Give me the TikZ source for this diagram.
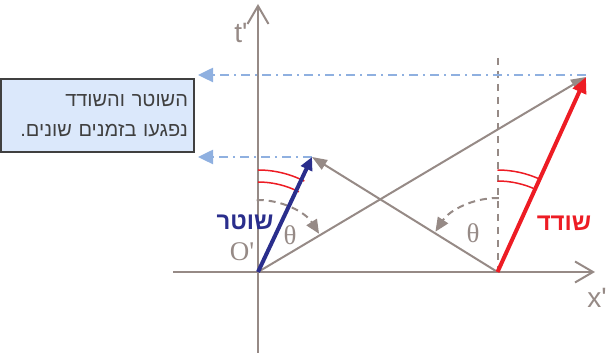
\documentclass[tikz,border=0pt]{standalone}
\usepackage{fontspec}
\setmainfont{Liberation Serif}
\newfontfamily\hebsans[Script=Hebrew]{Liberation Sans}
\newfontfamily\symfont{Liberation Serif}
\newfontfamily\axisfont{Liberation Sans}
\TeXXeTstate=1
\usepackage{tikz}
\usetikzlibrary{arrows.meta, calc}
\definecolor{axisgray}{RGB}{150,138,134}
\definecolor{copblue}{RGB}{42,46,140}
\definecolor{thiefred}{RGB}{237,28,36}
\definecolor{guideblue}{RGB}{143,176,224}
\definecolor{notefill}{RGB}{219,232,251}
\definecolor{notedraw}{RGB}{64,64,64}

\begin{document}
\begin{tikzpicture}[
        x=1pt, y=1pt,
        axis_line/.style={draw=axisgray, line width=2pt, -{Straight Barb[length=18pt, width=21pt, line width=2pt]}},
        signal_line/.style={draw=axisgray, line width=2pt, -{Triangle[length=15pt, width=11pt]}, fill=axisgray},
        cop_arrow/.style={draw=copblue, line width=4pt, -{Triangle[length=13pt, width=12pt]}},
        thief_arrow/.style={draw=thiefred, line width=4pt, -{Triangle[length=16pt, width=14pt]}},
        guide_line/.style={draw=guideblue, line width=2.5pt, dash pattern=on 9pt off 5pt on 2pt off 5pt,
                           -{Triangle[length=15pt, width=14pt, fill=guideblue]}},
        rest_line/.style={draw=axisgray, line width=2pt, dash pattern=on 7pt off 6pt},
        angle_arc/.style={draw=thiefred, line width=1.5pt},
        theta_arc/.style={draw=axisgray, line width=2pt, dash pattern=on 7pt off 5pt, -{Triangle[length=14pt, width=12pt]}},
        note_box/.style={rectangle, draw=notedraw, fill=notefill, line width=1.5pt,
                         minimum width=193pt, minimum height=73pt, text width=181pt, align=right, text=notedraw,
                         font=\hebsans\fontsize{20}{30}\selectfont, inner sep=6pt},
        name_lbl/.style={font=\hebsans\bfseries\fontsize{24}{24}\selectfont},
        axis_lbl/.style={font=\axisfont\fontsize{28}{28}\selectfont, text=axisgray},
        sym_lbl/.style={font=\symfont\fontsize{27}{27}\selectfont, text=axisgray}
    ]

    \useasboundingbox (0,0) rectangle (611,358);

    % frame points
    \coordinate (origin)  at (258,86);
    \coordinate (meet)    at (497.5,86);
    \coordinate (cop_end) at (312,201);
    \coordinate (thief_end) at (586,281);
    \coordinate (t_start) at (258,5);
    \coordinate (t_end)   at (258,354);
    \coordinate (x_start) at (173,86);
    \coordinate (x_end)   at (595,86);
    \coordinate (rest_top) at (497.5,300);
    \coordinate (guide_hi_start) at (586,283);
    \coordinate (guide_hi_end)   at (198,283);
    \coordinate (guide_lo_end)   at (198,201);

    \node[note_box] (note) at (97.5,242.5)
        {\beginR השוטר והשודד\endR\\\beginR נפגעו בזמנים שונים.\endR};

    \draw[axis_line] (t_start) -- (t_end);
    \draw[axis_line] (x_start) -- (x_end);
    \draw[rest_line] (rest_top) -- (meet);

    \draw[guide_line] (guide_hi_start) -- (guide_hi_end);
    \draw[guide_line] (cop_end) -- (guide_lo_end);

    \draw[signal_line] (origin) -- (thief_end);
    \draw[signal_line] (meet) -- (cop_end);

    \draw[angle_arc] ($(origin)+(90:102)$) arc[start angle=90, end angle=63, radius=102];
    \draw[angle_arc] ($(origin)+(90:90)$) arc[start angle=90, end angle=63, radius=90];
    \draw[angle_arc] ($(meet)+(90:102)$) arc[start angle=90, end angle=65, radius=102];
    \draw[angle_arc] ($(meet)+(90:91)$) arc[start angle=90, end angle=65, radius=91];

    \draw[theta_arc] ($(origin)+(91:72)$) arc[start angle=91, end angle=32, radius=72];
    \draw[theta_arc] ($(meet)+(89:74)$) arc[start angle=89, end angle=147, radius=74];

    \draw[cop_arrow] (origin) -- (cop_end);
    \draw[thief_arrow] (meet) -- (thief_end);

    \node[name_lbl, text=copblue] (cop_lbl) at (245,136) {\beginR שוטר\endR};
    \node[name_lbl, text=thiefred] (thief_lbl) at (564,135) {\beginR שודד\endR};
    \node[sym_lbl] (origin_lbl) at (242,106) {O'};
    \node[sym_lbl] (theta_cop) at (290,123) {θ};
    \node[sym_lbl] (theta_thief) at (473,125) {θ};
    \node[axis_lbl] (t_lbl) at (241,325) {t'};
    \node[axis_lbl] (x_lbl) at (597,60) {x'};
\end{tikzpicture}
\end{document}
